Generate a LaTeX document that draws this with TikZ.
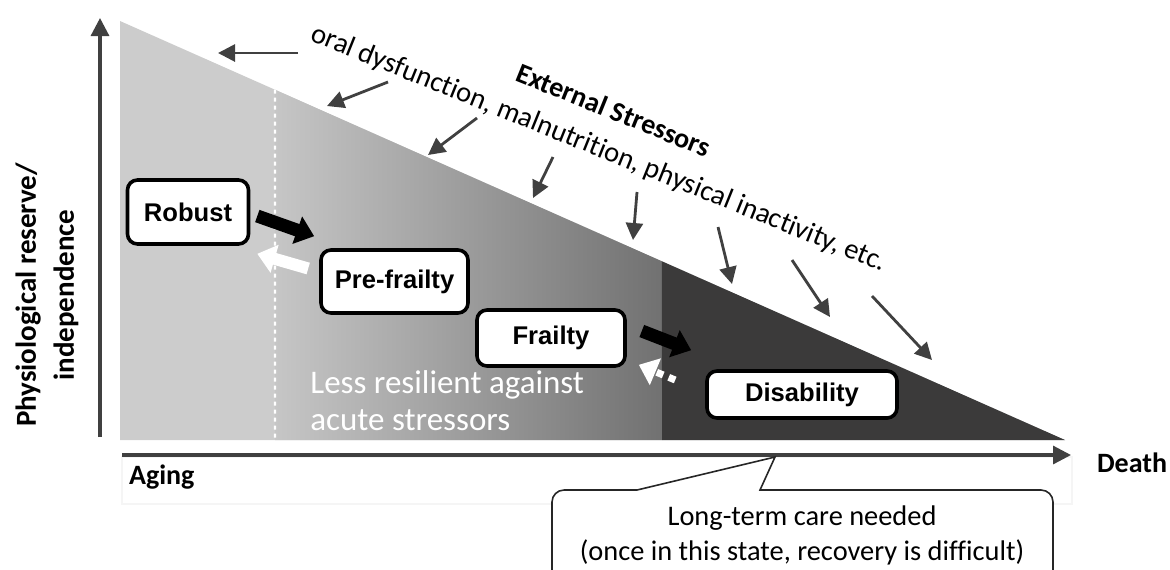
\documentclass[tikz,border=0pt]{standalone}
\usepackage{fontspec}
\setmainfont{Carlito}[Ligatures=NoCommon]
\newfontfamily\arialfont{Liberation Sans}
\usetikzlibrary{arrows.meta}
\usetikzlibrary{calc}
\definecolor{lgray}{HTML}{CCCCCC}
\definecolor{gleft}{HTML}{C6C6C6}
\definecolor{gright}{HTML}{717171}
\definecolor{dgray}{HTML}{3B3A3A}
\definecolor{ink}{HTML}{404040}

\tikzset{
	stage/.style={draw=black, line width=1.8pt, rounded corners=5pt, fill=white,
		inner sep=0pt, font=\arialfont\bfseries\fontsize{12.8}{15}\selectfont},
	stressor/.style={draw=ink, line width=1.4pt, -{Triangle[length=8.5pt,width=8.5pt]}},
	axisline/.style={draw=ink, line width=1.6pt, -{Triangle[length=9pt,width=9pt]}},
	worse/.style={black, line width=6.5pt, -{Triangle[length=9pt,width=14pt]}},
	better/.style={white, line width=6pt, -{Triangle[length=9pt,width=14pt]}}
}

\begin{document}
\begin{tikzpicture}[x=0.5pt,y=-0.5pt]
	\useasboundingbox (0,0) rectangle (1170,569);
	\coordinate (apex) at (120,21);
	\coordinate (tip) at (1065,440);
	\coordinate (origin) at (120,440);
	% reserve triangle
	\fill[lgray] (apex) -- (tip) -- (origin) -- cycle;
	\shade[left color=gleft, right color=gright] ($(apex)!0.164!(tip)$) -- ($(apex)!0.5735!(tip)$)
	-- (662,440) -- (275,440) -- cycle;
	\fill[dgray] ($(apex)!0.5735!(tip)$) -- (tip) -- (662,440) -- cycle;
	\draw[white, line width=1.2pt, dash pattern=on 2pt off 2pt] ($(apex)!0.164!(tip)$) -- (275,440);
	% axes
	\draw[axisline] (100,437) -- (100,18);
	\draw[gray!8, line width=0.6pt] (122,457) rectangle (1072,504);
	\draw[axisline] (122,455) -- (1071,455);
	\node[anchor=west, font=\bfseries\fontsize{14}{17}\selectfont] (aging) at (122,477) {Aging};
	\node[anchor=west, font=\bfseries\fontsize{14}{17}\selectfont] (death) at (1090,463) {Death};
	\node[rotate=90, align=center, font=\bfseries\fontsize{14.5}{19}\selectfont] (reserve) at (47,295)
	{Physiological reserve/\\independence};
	% external stressors
	\foreach \xa/\ya/\xb/\yb in {298/53/218/53, 388/82/327/106, 477/118/428/155, 553/157/533/198,
		637/192/633/240, 718/227/732/284, 792/260/830/317, 872/296/932/360}
	\draw[stressor] (\xa,\ya) -- (\xb,\yb);
	\node[rotate=-22, anchor=base west, inner sep=0pt, font=\fontsize{14.3}{17}\selectfont] (factors)
	at (309,40) {oral dysfunction, malnutrition, physical inactivity, etc.};
	\node[rotate=-22, anchor=base west, inner sep=0pt, font=\bfseries\fontsize{14}{17}\selectfont] (external)
	at (514,80) {External Stressors};
	% stages
	\node[stage, minimum width=60.5pt, minimum height=32pt] (robust) at (188,212) {Robust};
	\node[stage, minimum width=73.5pt, minimum height=31.5pt] (prefrailty) at (394.5,281.5) {Pre-frailty};
	\node[stage, minimum width=74pt, minimum height=28pt] (frailty) at (551,338) {Frailty};
	\node[stage, minimum width=95pt, minimum height=23.5pt] (disability) at (802,394.5) {Disability};
	\draw[worse] ($(robust.east)+(7,4)$) -- ($(prefrailty.north west)+(-5,-12)$);
	\draw[better] ($(prefrailty.west)+(-11,-13)$) -- ($(robust.south east)+(7,8)$);
	\draw[worse] ($(frailty.east)+(15,-7)$) -- ($(disability.north west)+(-14,-19)$);
	\draw[better, line width=3.5pt, dash pattern=on 3.5pt off 3pt] ($(disability.west)+(-30,-14.5)$)
	-- ($(frailty.south east)+(12,-3)$);
	\node[anchor=west, align=left, text=white, inner sep=0pt, font=\fontsize{16.5}{18.5}\selectfont] (resilient)
	at (310,401) {Less resilient against\\acute stressors};
	% long-term care callout
	\coordinate (care) at (775,457);
	\draw[black!85, line width=0.8pt, fill=white] (637,490) -- (care) -- (760,490)
	[rounded corners=6pt] -- (1053,490) -- (1053,640) -- (552,640) -- (552,490) [sharp corners] -- cycle;
	\node[align=center, font=\fontsize{14.2}{17.5}\selectfont] (caretext) at (802,535)
	{Long-term care needed\\(once in this state, recovery is difficult)};
\end{tikzpicture}
\end{document}
